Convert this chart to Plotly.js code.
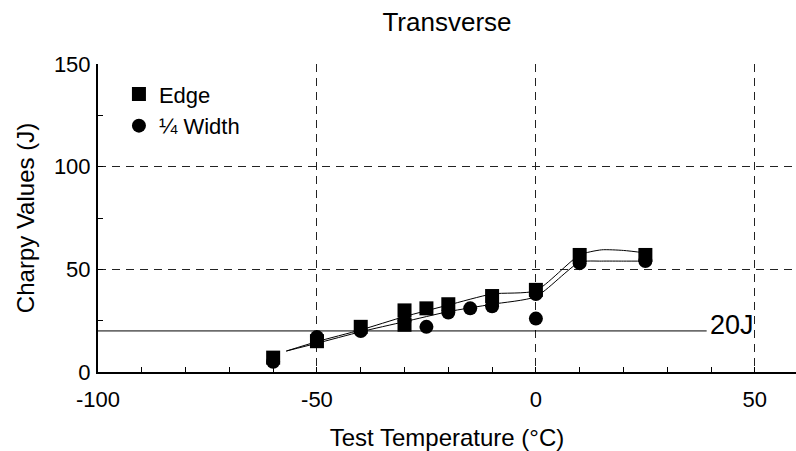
<!DOCTYPE html>
<html>
<head>
<meta charset="utf-8">
<script src="https://cdn.plot.ly/plotly-3.0.1.min.js"></script>
<style>html,body{margin:0;padding:0;background:#fff;}#chart{width:796px;height:451px;}</style>
</head>
<body>
<div id="chart"></div>
<script>
// Measured specimen values
const tempEdge = [-60, -50, -40, -30, -30, -25, -20, -10, 0, 10, 25];
const edgeJ    = [7, 15, 22, 30, 23, 31, 33, 37, 40, 57, 57];
const tempWidth = [-60, -50, -40, -30, -25, -20, -15, -10, 0, 0, 10, 25];
const widthJ    = [5, 17, 20, 25, 22, 29, 31, 32, 38, 26, 53, 54];

// Fitted transition curves
const fitTemp  = [-57, -50, -40, -30, -20, -10, 0, 10, 15, 20, 25];
const edgeFit  = [10.2, 14.8, 20.5, 27, 32.6, 38, 39.6, 57, 59.5, 59.2, 58];
const widthFit = [10.2, 14, 19.6, 24.5, 29.4, 33, 36.7, 53.5, 54, 54, 54];

// 20 J requirement line
const reqTemp = [-100, 39];
const reqJ = [20, 20];
const reqLabel = '20J';

const seriesNames = ['Edge', '\u00BC Width'];

const FONT = 'Liberation Sans, Arial, sans-serif';

const traces = [
  {x: reqTemp, y: reqJ, mode: 'lines', line: {color: '#000', width: 1}, showlegend: false, hoverinfo: 'skip'},
  {x: fitTemp, y: edgeFit, mode: 'lines', line: {color: '#000', width: 1, shape: 'spline', smoothing: 0.6}, showlegend: false},
  {x: fitTemp, y: widthFit, mode: 'lines', line: {color: '#000', width: 1, shape: 'spline', smoothing: 0.6}, showlegend: false},
  {x: tempEdge, y: edgeJ, mode: 'markers', name: seriesNames[0], marker: {symbol: 'square', size: 14, color: '#000'}},
  {x: tempWidth, y: widthJ, mode: 'markers', name: seriesNames[1], marker: {symbol: 'circle', size: 14, color: '#000'}}
];

const layout = {
  width: 796, height: 451,
  margin: {l: 98, r: 0, t: 64, b: 79, pad: 0},
  paper_bgcolor: '#fff', plot_bgcolor: '#fff',
  font: {family: FONT, color: '#000', size: 22},
  title: {text: 'Transverse', font: {family: FONT, size: 26, color: '#000'}, xref: 'paper', x: 0.5, xanchor: 'center', yref: 'container', y: 0.951, yanchor: 'middle'},
  xaxis: {
    range: [-100, 59.4], tickvals: [-100, -50, 0, 50], ticktext: ['-100', '-50', '0', '50'],
    ticks: 'inside', ticklen: 5, tickcolor: '#000',
    minor: {dtick: 10, tick0: 0, ticks: 'inside', ticklen: 5, tickcolor: '#000', showgrid: false},
    showline: true, linecolor: '#000', linewidth: 2,
    showgrid: true, gridcolor: '#222', gridwidth: 1, griddash: '8px,6px',
    zeroline: false, tickfont: {size: 22}, ticklabelstandoff: 7,
    title: {text: 'Test Temperature (\u00B0C)', font: {size: 24}, standoff: 19}
  },
  yaxis: {
    range: [0, 150], tickvals: [0, 50, 100, 150],
    ticks: 'inside', ticklen: 5, tickcolor: '#000',
    minor: {dtick: 25, tick0: 0, ticks: 'inside', ticklen: 5, tickcolor: '#000', showgrid: false},
    showline: true, linecolor: '#000', linewidth: 2,
    showgrid: true, gridcolor: '#222', gridwidth: 1, griddash: '8px,6px',
    zeroline: false, tickfont: {size: 22}, ticklabelstandoff: 1,
    title: {text: 'Charpy Values (J)', font: {size: 24}, standoff: 12}
  },
  legend: {x: 0.03, y: 0.97, xanchor: 'left', yanchor: 'top', bgcolor: 'rgba(0,0,0,0)', font: {size: 22}, tracegroupgap: 0},
  annotations: [{x: reqTemp[1], y: reqJ[1], xref: 'x', yref: 'y', text: reqLabel, showarrow: false, xanchor: 'left', yanchor: 'bottom', yshift: -11, xshift: 1, font: {size: 27, family: FONT}}],
  showlegend: true
};

Plotly.newPlot('chart', traces, layout, {staticPlot: true, displayModeBar: false});
</script>
</body>
</html>
